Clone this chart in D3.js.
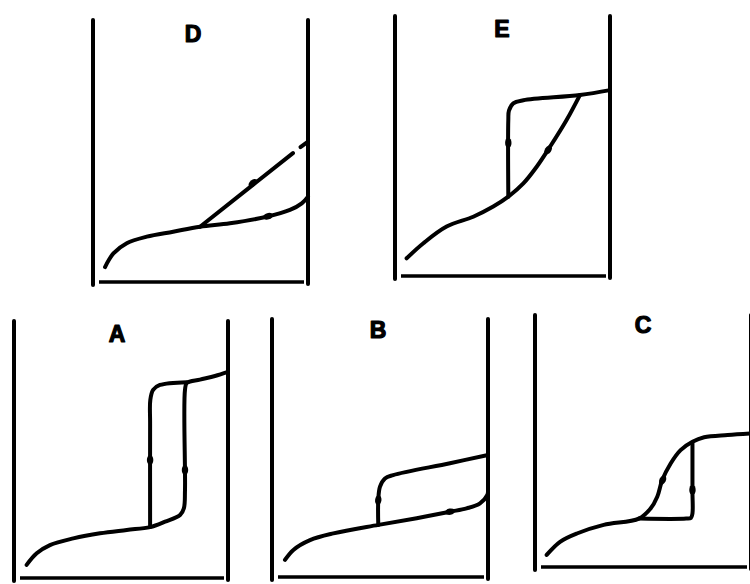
<!DOCTYPE html>
<html><head><meta charset="utf-8">
<script src="https://cdn.jsdelivr.net/npm/d3@7"></script>
<style>html,body{margin:0;padding:0;background:#fff;}svg{display:block;}</style>
</head><body>
<svg id="chart" width="750" height="584"></svg>
<script>
// Panel labels
const panelNames = ["D", "E", "A", "B", "C"];

// Adsorption / desorption branches (relative pressure x, amount adsorbed y)
const adsD = [[0.056,0.057],[0.095,0.109],[0.157,0.148],[0.25,0.173],[0.373,0.192],[0.498,0.211],[0.637,0.224],[0.808,0.249],[0.916,0.275],[0.971,0.300],[1.0,0.326]];
const desD = [[0.498,0.211],[0.93,0.492]];
const desD2 = [[0.965,0.515],[1.0,0.536]];

const adsE = [[0.054,0.068],[0.132,0.126],[0.240,0.190],[0.364,0.228],[0.457,0.267],[0.527,0.305],[0.597,0.356],[0.659,0.420],[0.721,0.497],[0.798,0.600],[0.860,0.696]];
const desE = [[1.0,0.715],[0.860,0.696],[0.597,0.676],[0.550,0.664],[0.530,0.636],[0.527,0.600],[0.527,0.305]];

const adsA = [[0.059,0.051],[0.106,0.096],[0.168,0.128],[0.277,0.154],[0.402,0.174],[0.527,0.187],[0.636,0.198],[0.706,0.219],[0.776,0.245],[0.794,0.272],[0.799,0.342],[0.799,0.732],[0.808,0.759],[0.869,0.772],[0.939,0.786],[1.0,0.802]];
const desA = [[0.808,0.762],[0.682,0.751],[0.650,0.732],[0.637,0.693],[0.636,0.600],[0.636,0.198]];

const adsB = [[0.060,0.066],[0.099,0.105],[0.176,0.143],[0.284,0.169],[0.493,0.202],[0.670,0.228],[0.824,0.253],[0.901,0.266],[0.963,0.285],[0.997,0.318],[1.0,0.33]];
const desB = [[1.0,0.473],[0.824,0.441],[0.561,0.395],[0.523,0.382],[0.500,0.350],[0.492,0.298],[0.492,0.202]];

const adsC = [[0.054,0.048],[0.116,0.100],[0.194,0.133],[0.318,0.167],[0.481,0.192],[0.535,0.232],[0.566,0.279],[0.589,0.345],[0.628,0.411],[0.674,0.464],[0.729,0.497],[0.783,0.515],[0.892,0.524],[1.0,0.530]];
const desC = [[0.729,0.491],[0.729,0.300],[0.729,0.213],[0.722,0.195],[0.700,0.192],[0.481,0.192]];

// Direction markers on the branches [x, y]
const arrowsD = [[0.744,0.378],[0.814,0.251]];
const arrowsE = [[0.527,0.512],[0.712,0.485]];
const arrowsA = [[0.636,0.459],[0.799,0.420]];
const arrowsB = [[0.492,0.298],[0.824,0.253]];
const arrowsC = [[0.591,0.345],[0.729,0.306]];

const series = {
  D: {lines: [adsD, desD, desD2], arrows: arrowsD},
  E: {lines: [adsE, desE], arrows: arrowsE},
  A: {lines: [adsA, desA], arrows: arrowsA},
  B: {lines: [adsB, desB], arrows: arrowsB},
  C: {lines: [adsC, desC], arrows: arrowsC}
};

// Layout (pixel boxes)
const layout = {
  D: {left: 93, right: 308, top: 20, bottom: 282, lx: 193, ly: 42},
  E: {left: 395, right: 610, top: 16, bottom: 276, lx: 502, ly: 37},
  A: {left: 14, right: 228, top: 321, bottom: 578, lx: 117, ly: 342},
  B: {left: 272, right: 488, top: 319, bottom: 577, lx: 378, ly: 338},
  C: {left: 535, right: 751, top: 315, bottom: 567, lx: 643, ly: 333}
};

const svg = d3.select("#chart");
const SW = 4;

panelNames.forEach(name => {
  const L = layout[name];
  const S = series[name];
  const x = d3.scaleLinear().domain([0, 1]).range([L.left, L.right]);
  const y = d3.scaleLinear().domain([0, 1]).range([L.bottom, L.top]);
  const g = svg.append("g");

  // axes frame
  g.append("line").attr("x1", x(0)).attr("x2", x(0)).attr("y1", y(1)).attr("y2", y(0) + 3)
    .attr("stroke", "#000").attr("stroke-width", 4).attr("stroke-linecap", "round");
  g.append("line").attr("x1", x(1)).attr("x2", x(1)).attr("y1", y(1)).attr("y2", y(0) + 2)
    .attr("stroke", "#000").attr("stroke-width", 4).attr("stroke-linecap", "round");
  g.append("line").attr("x1", x(0) + 6).attr("x2", x(1) - 4).attr("y1", y(0)).attr("y2", y(0))
    .attr("stroke", "#000").attr("stroke-width", 3.5);

  const line = d3.line().x(d => x(d[0])).y(d => y(d[1])).curve(d3.curveCatmullRom.alpha(0.5));
  S.lines.forEach(pts => {
    g.append("path").attr("d", line(pts)).attr("fill", "none")
      .attr("stroke", "#000").attr("stroke-width", SW)
      .attr("stroke-linecap", "round").attr("stroke-linejoin", "round");
  });

  // direction markers oriented along nearest segment
  S.arrows.forEach(a => {
    const px = x(a[0]), py = y(a[1]);
    let best = null, bd = Infinity;
    S.lines.forEach(pts => {
      for (let i = 0; i < pts.length - 1; i++) {
        const x1 = x(pts[i][0]), y1 = y(pts[i][1]), x2 = x(pts[i+1][0]), y2 = y(pts[i+1][1]);
        const dx = x2 - x1, dy = y2 - y1, l2 = dx*dx + dy*dy || 1;
        let t = ((px - x1)*dx + (py - y1)*dy) / l2; t = Math.max(0, Math.min(1, t));
        const qx = x1 + t*dx, qy = y1 + t*dy;
        const d = (qx-px)*(qx-px) + (qy-py)*(qy-py);
        if (d < bd) { bd = d; best = Math.atan2(dy, dx) * 180 / Math.PI; }
      }
    });
    g.append("ellipse").attr("cx", 0).attr("cy", 0).attr("rx", 5).attr("ry", 3.2)
      .attr("transform", `translate(${px},${py}) rotate(${best})`).attr("fill", "#000");
  });

  g.append("text").attr("x", L.lx).attr("y", L.ly).attr("text-anchor", "middle")
    .attr("font-family", "Liberation Sans, Arial, sans-serif").attr("font-weight", "bold")
    .attr("font-size", 23).attr("stroke", "#000").attr("stroke-width", 1.2)
    .attr("stroke-linejoin", "round").text(name);
});
</script>
</body></html>
